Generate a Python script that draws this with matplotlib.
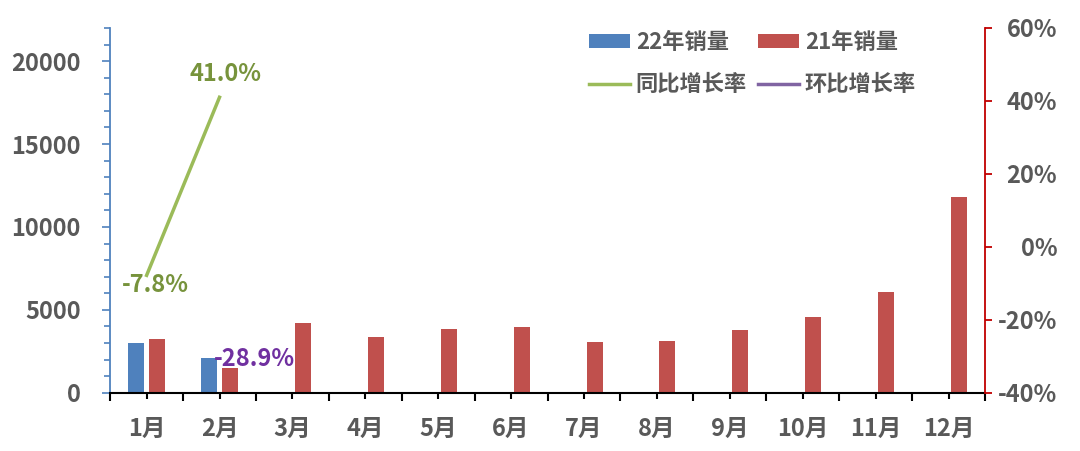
import numpy as np
import matplotlib.pyplot as plt
from matplotlib.ticker import MultipleLocator, FixedLocator, FuncFormatter

plt.rcParams["font.family"] = ["Noto Sans CJK SC", "DejaVu Sans"]
plt.rcParams["font.weight"] = "bold"

months = ["1月", "2月", "3月", "4月", "5月", "6月", "7月", "8月", "9月", "10月", "11月", "12月"]
sales_22 = [3000, 2100]
sales_21 = [3250, 1500, 4220, 3370, 3850, 3970, 3070, 3130, 3790, 4580, 6080, 11800]
yoy = [-7.8, 41.0]      # 同比增长率 (%)
mom = [None, -28.9]     # 环比增长率 (%)

GRAY = "#595959"
BLUE = "#4F81BD"
RED = "#C0504D"
GREEN = "#9BBB59"
PURPLE = "#8064A2"

fig = plt.figure(figsize=(10.8, 4.51), dpi=100)
ax = fig.add_axes([0.102, 0.129, 0.81, 0.809])
ax2 = ax.twinx()

x = np.arange(len(months))
w = 0.22
off = 0.145
b1 = ax.bar(x[:len(sales_22)] - off, sales_22, width=w, color=BLUE, label="22年销量")
b2 = ax.bar(x + off, sales_21, width=w, color=RED, label="21年销量")

ax.set_xlim(-0.5, len(months) - 0.5)
ax.set_ylim(0, 22000)
ax.yaxis.set_major_locator(MultipleLocator(5000))
ax.yaxis.set_minor_locator(MultipleLocator(1000))
ax.set_xticks(x)
ax.set_xticklabels(months)
ax.xaxis.set_minor_locator(FixedLocator(np.arange(-0.5, len(months), 1.0)))

for s in ["top", "right"]:
    ax.spines[s].set_visible(False)
ax.spines["left"].set_color(BLUE)
ax.spines["left"].set_linewidth(1.3)
ax.spines["bottom"].set_color("black")
ax.spines["bottom"].set_linewidth(1.5)

ax.tick_params(axis="y", which="major", direction="out", length=6, width=1.2,
               color=BLUE, labelcolor=GRAY, labelsize=17, pad=15)
ax.tick_params(axis="y", which="minor", direction="out", length=4.3, width=1.2, color=BLUE)
ax.tick_params(axis="x", which="major", direction="out", length=4.5, width=1.5,
               color="black", labelcolor=GRAY, labelsize=17, pad=13)
ax.tick_params(axis="x", which="minor", direction="out", length=5.5, width=1.5, color="black")

# 增长率 (right axis)
yoy_line, = ax2.plot(x[:len(yoy)], yoy, color=GREEN, lw=2.5, label="同比增长率")
mom_vals = [np.nan if v is None else v for v in mom]
mom_line, = ax2.plot(x[:len(mom)], mom_vals, color=PURPLE, lw=2.5, label="环比增长率")

ax2.set_ylim(-40, 60)
ax2.yaxis.set_major_locator(MultipleLocator(20))
ax2.yaxis.set_major_formatter(FuncFormatter(lambda v, p: f"{v:.0f}%"))
for s in ["top", "left", "bottom"]:
    ax2.spines[s].set_visible(False)
ax2.spines["right"].set_color("#C00000")
ax2.spines["right"].set_linewidth(1.3)
ax2.tick_params(axis="y", direction="out", length=5, width=1.3, color="#C00000",
                labelcolor=GRAY, labelsize=17, pad=47)
for lbl in ax2.get_yticklabels():
    lbl.set_horizontalalignment("right")

ax2.annotate("-7.8%", (x[0], yoy[0]), xytext=(6.5, -7), textcoords="offset points",
             ha="center", va="center", color="#77933C", fontsize=17, fontweight="bold")
ax2.annotate("41.0%", (x[1], yoy[1]), xytext=(4.5, 17), textcoords="offset points",
             ha="center", va="center", color="#77933C", fontsize=17, fontweight="bold")
ax2.annotate("-28.9%", (x[1], mom[1]), xytext=(25, -4.5), textcoords="offset points",
             ha="center", va="center", color="#7030A0", fontsize=17, fontweight="bold")

# column-major order so rows read: 22年/21年, 同比/环比
handles = [b1, yoy_line, b2, mom_line]
fig.legend(handles=handles, labels=[h.get_label() for h in handles], ncol=2,
           loc="upper left", bbox_to_anchor=(0.527, 0.975), frameon=False,
           fontsize=16, labelcolor=GRAY, handlelength=1.85, handleheight=0.6,
           handletextpad=0.25, columnspacing=0.5, labelspacing=0.85)

fig.savefig("out.png", dpi=100)
